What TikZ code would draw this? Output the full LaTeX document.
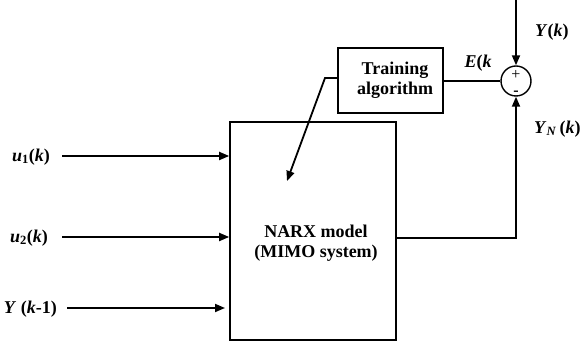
\documentclass[tikz,border=0pt]{standalone}
\usepackage{fontspec}
\setmainfont{Liberation Serif}
\usetikzlibrary{arrows.meta}
\begin{document}
\begin{tikzpicture}[x=1pt,y=-1pt,
  lw/.style={line width=1.8pt},
  arr/.style={lw,-{Triangle[length=10pt,width=8pt]}},
  boxx/.style={draw,line width=1.6pt,inner sep=0pt},
  sgn/.style={font=\fontsize{16}{16}\selectfont, inner sep=0pt, text height=8pt, text depth=0pt},
  lbl/.style={font=\fontsize{18}{21}\selectfont\bfseries, inner sep=0pt, align=center}]
\useasboundingbox (0,0) rectangle (582,344);
% blocks
\node[boxx,minimum width=105pt,minimum height=65pt] (train) at (390.5,80.5) {};
\node[lbl] (trainlbl) at (395,80) {Training\\[-1pt]algorithm};
\node[boxx,minimum width=166pt,minimum height=218pt] (narx) at (313,231) {};
\node[lbl] (narxlbl) at (316,243) {NARX model\\[-1pt](MIMO system)};
\node[draw,circle,line width=1.4pt,minimum size=30pt,inner sep=0pt] (sum) at (516,81) {};
\node[sgn] (plus) at (516,76) {+};
\node[sgn,font=\fontsize{16}{16}\selectfont\bfseries] (minus) at (516,92) {-};
% labels
\node[lbl,anchor=east] (u1) at (50,157) {\textit{u}\textsubscript{1}(\textit{k})};
\node[lbl,anchor=east] (u2) at (48,238) {\textit{u}\textsubscript{2}(\textit{k})};
\node[lbl,anchor=east] (yk1) at (57,309) {\textit{Y} (\textit{k}-1)};
\node[lbl,anchor=west] (yk) at (535,32) {\textit{Y}(\textit{k})};
\node[lbl,anchor=west] (ynk) at (534,129) {\textit{Y}\textsubscript{\textit{N}}\,(\textit{k})};
\node[lbl] (ek) at (478,63) {\textit{E}(\textit{k}};
% coordinates
\coordinate (u1s) at (62,156);
\coordinate (u2s) at (62,237);
\coordinate (yks) at (67,308);
\coordinate (ykend) at (225,308);
\coordinate (tops) at (516,0);
\coordinate (outs) at (396,238);
\coordinate (tw) at (338,78);
\coordinate (tbend) at (325,78);
\coordinate (ttip) at (287,181);
% connectors
\draw[arr] (u1s) -- (u1s -| narx.west);
\draw[arr] (u2s) -- (u2s -| narx.west);
\draw[arr] (yks) -- (ykend);
\draw[arr] (tops) -- (sum.north);
\draw[arr] (outs) -| (sum.south);
\draw[lw] (train.east |- sum.west) -- (sum.west);
\draw[arr] (tw) -- (tbend) -- (ttip);
\end{tikzpicture}
\end{document}
